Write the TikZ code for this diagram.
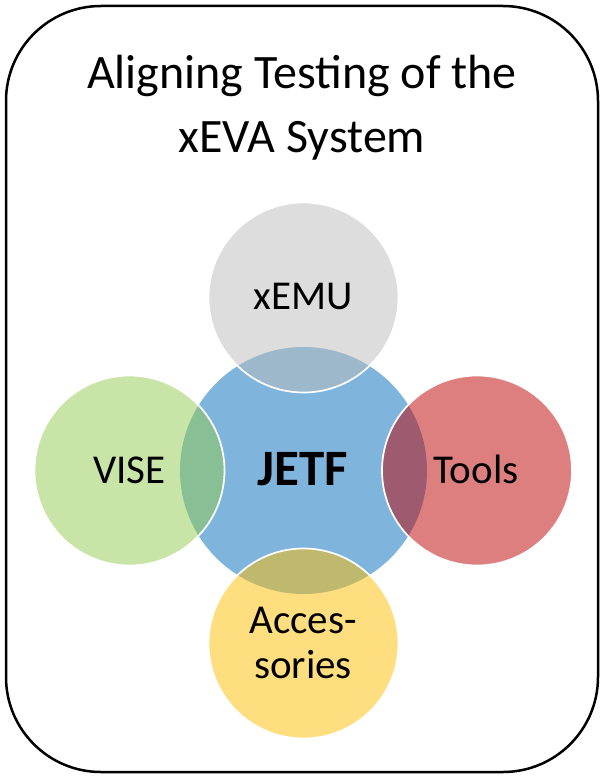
\documentclass[tikz,border=0pt]{standalone}
\usepackage{fontspec}
\setmainfont{Carlito}
\definecolor{jblue}{RGB}{127,181,221}
\definecolor{sgray}{RGB}{187,187,187}
\definecolor{sgreen}{RGB}{145,201,77}
\definecolor{sred}{RGB}{189,0,0}
\definecolor{syellow}{RGB}{255,189,0}
\tikzset{
  hub/.style={circle, minimum size=247pt, inner sep=0pt, fill=jblue},
  sat/.style={circle, minimum size=190pt, inner sep=0pt, fill opacity=0.5, draw=white, draw opacity=1, line width=1.7pt},
  lbl/.style={anchor=base, inner sep=0pt, font=\fontsize{41}{49}\selectfont},
  ttl/.style={anchor=base, inner sep=0pt, font=\fontsize{48}{58}\selectfont}
}
\begin{document}
\begin{tikzpicture}[x=1pt,y=-1pt]
\useasboundingbox (0,0) rectangle (602,778);
\node[draw, line width=2.5pt, rounded corners=95pt, minimum width=592pt, minimum height=766pt, inner sep=0pt] (frame) at (302,389) {};
\node[ttl] (title1) at (302,88.3) {Aligning Testing of the};
\node[ttl] (title2) at (302,153) {xEVA System};
\node[hub] (jetf) at (303.5,470.5) {};
\node[sat, fill=sgray] (xemu) at (303.5,297.5) {};
\node[sat, fill=sgreen] (vise) at (129.5,470.5) {};
\node[sat, fill=sred] (tools) at (477,470.5) {};
\node[sat, fill=syellow] (acc) at (303.5,643.5) {};
\node[lbl, font=\fontsize{51}{61}\selectfont\bfseries] (jetft) at (302.5,485) {JETF};
\node[lbl] (xemut) at (303,309) {xEMU};
\node[lbl] (viset) at (129.5,483) {VISE};
\node[lbl] (toolst) at (476,483) {Tools};
\node[lbl] (acct1) at (303,633) {Acces-};
\node[lbl] (acct2) at (303,678) {sories};
\end{tikzpicture}
\end{document}
